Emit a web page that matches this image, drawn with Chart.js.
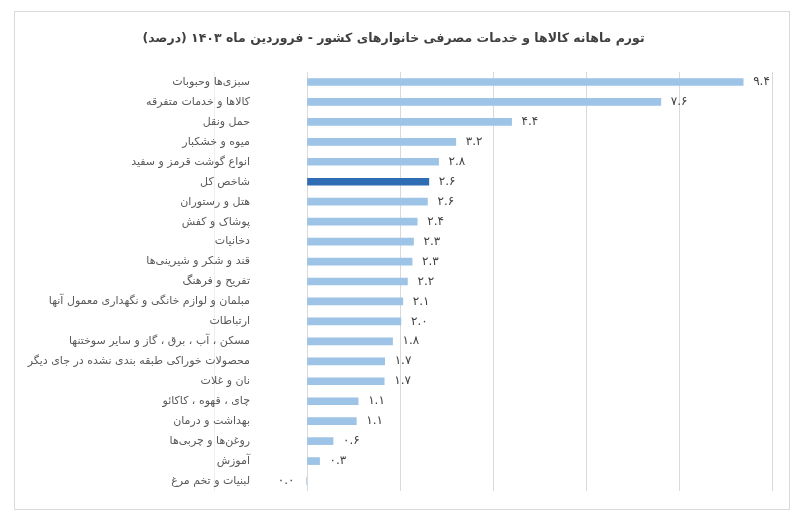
<!DOCTYPE html>
<html>
<head>
<meta charset="utf-8">
<script src="https://cdn.jsdelivr.net/npm/chart.js@4.4.0/dist/chart.umd.min.js"></script>
<style>
  body { margin: 0; background: #fff; }
  #box { position: absolute; left: 14px; top: 11px; width: 774px; height: 497px; border: 1px solid #d9d9d9; }
</style>
</head>
<body>
<div id="box"><canvas id="chart" dir="rtl"></canvas></div>
<script>
// monthly inflation by group, Farvardin 1403 (percent)
const titleText = "تورم ماهانه کالاها و خدمات مصرفی خانوارهای کشور - فروردین ماه ۱۴۰۳ (درصد)";
const categories = [
  "سبزی‌ها وحبوبات",
  "کالاها و خدمات متفرقه",
  "حمل ونقل",
  "میوه و خشکبار",
  "انواع گوشت قرمز و سفید",
  "شاخص کل",
  "هتل و رستوران",
  "پوشاک و کفش",
  "دخانیات",
  "قند و شکر و شیرینی‌ها",
  "تفریح و فرهنگ",
  "مبلمان و لوازم خانگی و نگهداری معمول آنها",
  "ارتباطات",
  "مسکن ، آب ، برق ، گاز و سایر سوختنها",
  "محصولات خوراکی طبقه بندی نشده در جای دیگر",
  "نان و غلات",
  "چای ، قهوه ، کاکائو",
  "بهداشت و درمان",
  "روغن‌ها و چربی‌ها",
  "آموزش",
  "لبنیات و تخم مرغ"
];
const values = [9.38, 7.61, 4.40, 3.20, 2.83, 2.62, 2.59, 2.37, 2.29, 2.26, 2.16, 2.06, 2.02, 1.84, 1.67, 1.66, 1.10, 1.06, 0.56, 0.27, -0.01];
const totalLabel = "شاخص کل";
const xTicks = [-2, 0, 2, 4, 6, 8, 10];

const faDigits = "۰۱۲۳۴۵۶۷۸۹";
function toFa(v) {
  const s = (Math.round(v * 10) / 10).toFixed(1);
  return s.replace(/[0-9]/g, d => faDigits[+d]);
}

// category names (inside the plot, left of the zero line) and values at bar ends
const barText = {
  id: "barText",
  afterDatasetsDraw(chart) {
    const ctx = chart.ctx;
    const meta = chart.getDatasetMeta(0);
    const yScale = chart.scales.y;
    const zeroX = chart.scales.x.getPixelForValue(0);
    ctx.save();
    ctx.textBaseline = "middle";

    ctx.font = "11px 'DejaVu Sans', sans-serif";
    ctx.fillStyle = "#595959";
    ctx.textAlign = "right";
    categories.forEach((name, i) => {
      ctx.fillText(name, zeroX - 57, yScale.getPixelForValue(i));
    });

    ctx.font = "12px 'DejaVu Sans', sans-serif";
    ctx.fillStyle = "#404040";
    meta.data.forEach((bar, i) => {
      const v = values[i];
      if (v < 0) {
        ctx.textAlign = "right";
        ctx.fillText(toFa(v), bar.x - 12, bar.y);
      } else {
        ctx.textAlign = "left";
        ctx.fillText(toFa(v), bar.x + 10, bar.y);
      }
    });
    ctx.restore();
  }
};

new Chart(document.getElementById("chart"), {
  type: "bar",
  data: {
    labels: categories,
    datasets: [{
      data: values,
      barThickness: 7,
      backgroundColor: c => categories[c.dataIndex] === totalLabel ? "#2e6db4" : "#9dc3e6"
    }]
  },
  options: {
    indexAxis: "y",
    responsive: true,
    maintainAspectRatio: false,
    animation: false,
    layout: { padding: { top: 0, right: 17, bottom: 18, left: 0 } },
    plugins: {
      legend: { display: false },
      tooltip: { enabled: false },
      title: {
        display: true,
        text: titleText,
        color: "#404040",
        font: { family: "'DejaVu Sans', sans-serif", size: 12.5, weight: "bold" },
        padding: { top: 19, bottom: 26 }
      }
    },
    scales: {
      x: {
        min: xTicks[0],
        max: xTicks[xTicks.length - 1],
        afterBuildTicks: s => { s.ticks = xTicks.map(v => ({ value: v })); },
        ticks: { display: false },
        border: { display: false },
        grid: {
          drawTicks: false,
          color: c => c.tick && c.tick.value === xTicks[0] ? "#eeeeee" : "#d9d9d9"
        }
      },
      y: {
        afterFit: s => { s.width = 199; },
        ticks: { display: false },
        border: { display: false },
        grid: { display: false, drawTicks: false }
      }
    }
  },
  plugins: [barText]
});
</script>
</body>
</html>
